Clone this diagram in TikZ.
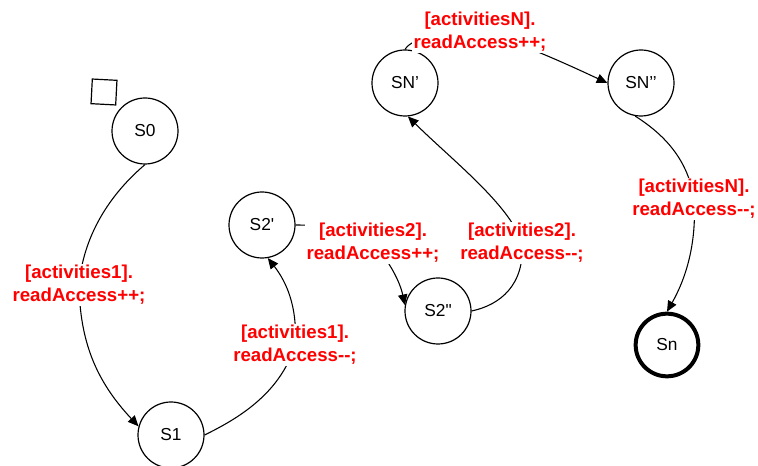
\documentclass[tikz,border=0pt]{standalone}
\usepackage{fontspec}
\setmainfont{Liberation Sans}
\usetikzlibrary{arrows.meta}
\definecolor{guardred}{HTML}{FF0000}

\begin{document}
\begin{tikzpicture}[x=0.75pt, y=-0.75pt,
      st/.style={draw, circle, line width=0.9pt, minimum size=49.5pt, inner sep=0pt,
                 font=\fontsize{13}{15}\selectfont},
      fin/.style={st, line width=3pt, minimum size=47pt},
      lbl/.style={fill=white, text=guardred, align=center, inner sep=1pt,
                  font=\fontsize{14}{17}\selectfont\bfseries},
      arr/.style={-{Triangle[length=8pt,width=7pt]}, line width=0.8pt}]
    \useasboundingbox (0,0) rectangle (758,466);
    \node[draw, line width=0.9pt, minimum size=18.5pt, inner sep=0pt, rotate=-3] (init) at (104,92) {};
    \node[st] (S0) at (145,131) {S0};
    \node[st] (S1) at (171,435) {S1};
    \node[st] (S2a) at (262,225) {S2\textquotesingle};
    \node[st] (S2b) at (438,311) {S2\textquotedbl};
    \node[st] (SNa) at (405,83) {SN’};
    \node[st] (SNb) at (641,83) {SN’’};
    \node[fin] (Sn) at (667,345) {Sn};
    % transitions
    \draw[arr] (S0.south) .. controls (115,190) and (84,230) .. (79,285)
      node[lbl] {[activities1].\\readAccess++;}
      .. controls (80,340) and (95,380) .. (S1.165);
    \draw[arr] (S1.east) .. controls (235,420) and (280,395) .. (295,345)
      node[lbl] {[activities1].\\readAccess-{}-;}
      .. controls (298,305) and (285,280) .. (S2a.-80);
    \draw[arr] (S2a.east) .. controls (330,225) and (360,230) .. (373,243)
      node[lbl] {[activities2].\\readAccess++;}
      .. controls (390,262) and (400,282) .. (S2b.170);
    \draw[arr] (S2b.east) .. controls (500,305) and (525,285) .. (522,243)
      node[lbl] {[activities2].\\readAccess-{}-;}
      .. controls (510,205) and (452,160) .. (SNa.-85);
    \draw[arr] (SNa.north) .. controls (412,38) and (440,32) .. (480,32)
      node[lbl] {[activitiesN].\\readAccess++;}
      .. controls (520,42) and (575,68) .. (SNb.west);
    \draw[arr] (SNb.-100) .. controls (665,135) and (688,160) .. (694,199)
      node[lbl] {[activitiesN].\\readAccess-{}-;}
      .. controls (697,245) and (685,280) .. (Sn.north);
  \end{tikzpicture}
\end{document}
